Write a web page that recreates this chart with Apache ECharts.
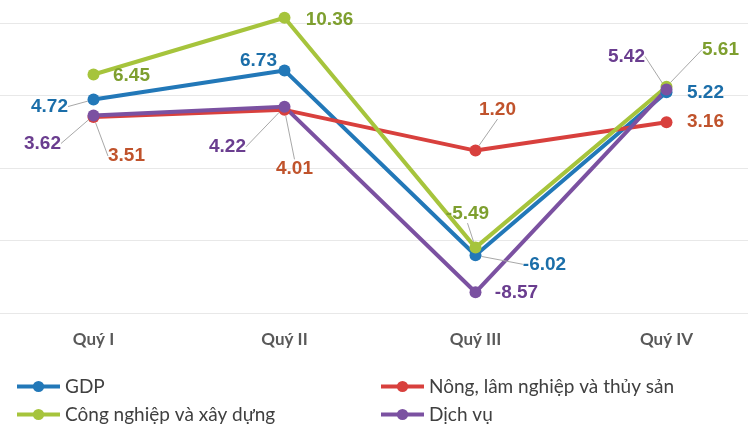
<!DOCTYPE html>
<html><head><meta charset="utf-8">
<script src="https://cdn.jsdelivr.net/npm/echarts@6/dist/echarts.min.js"></script>
<style>html,body{margin:0;padding:0;background:#fff}#c{width:748px;height:430px}</style>
</head><body><div id="c"></div>
<script>
const categories = ['Quý I', 'Quý II', 'Quý III', 'Quý IV'];
const seriesNames = ['GDP', 'Nông, lâm nghiệp và thủy sản', 'Công nghiệp và xây dựng', 'Dịch vụ'];
const gdp = [4.72, 6.73, -6.02, 5.22];
const nong = [3.51, 4.01, 1.20, 3.16];
const cong = [6.45, 10.36, -5.49, 5.61];
const dichvu = [3.62, 4.22, -8.57, 5.42];

const values = [gdp, nong, cong, dichvu];
const lineColors = ['#2278b8', '#d8403d', '#a6c43c', '#7b51a1'];
const labelColors = ['#1b6ea9', '#c0532c', '#7e9f2f', '#6a3d8f'];
// label offsets from point [dx, dy, showLeader]
const labelOffsets = [
  [[-44, 7, 1], [-26, -10, 0], [69, 9, 1], [39, 0, 0]],
  [[33, 39, 1], [10, 59, 1], [22, -41, 1], [39, 0, 0]],
  [[38, 1, 0], [45, 2, 0], [-8, -34, 1], [54, -37, 1]],
  [[-51, 28, 1], [-57, 40, 1], [41, 1, 0], [-40, -33, 1]]
];
// legend slots [left, top]
const legendSlots = [[15, 377], [379, 377], [15, 405], [379, 405]];

const chart = echarts.init(document.getElementById('c'));
const series = values.map((vals, si) => ({
  name: seriesNames[si],
  type: 'line',
  clip: false,
  symbol: 'circle',
  symbolSize: 12,
  color: lineColors[si],
  lineStyle: { width: 4, color: lineColors[si] },
  itemStyle: { color: lineColors[si] },
  label: {
    show: true,
    position: 'inside',
    color: labelColors[si],
    fontFamily: 'Liberation Sans',
    fontWeight: 'bold',
    fontSize: 19,
    formatter: p => Number(p.value).toFixed(2)
  },
  labelLine: { show: true, lineStyle: { color: '#a8a8a8', width: 1 } },
  labelLayout: p => ({ dx: labelOffsets[si][p.dataIndex][0], dy: labelOffsets[si][p.dataIndex][1] }),
  data: vals.map((v, i) => ({
    value: v,
    labelLine: { show: !!labelOffsets[si][i][2] }
  }))
}));

chart.setOption({
  animation: false,
  backgroundColor: '#ffffff',
  grid: { left: -2, width: 764, top: 23, height: 290, containLabel: false, outerBoundsMode: 'none' },
  xAxis: {
    type: 'category',
    data: categories,
    boundaryGap: true,
    axisLine: { show: false },
    axisTick: { show: false },
    axisLabel: { margin: 18, color: '#595959', fontSize: 17, fontFamily: 'Lato', fontWeight: 'bold' }
  },
  yAxis: {
    type: 'value',
    min: -10, max: 10, interval: 5,
    axisLabel: { show: false },
    axisLine: { show: false },
    axisTick: { show: false },
    splitLine: { show: true, lineStyle: { color: '#e8e8e8', width: 1 } }
  },
  legend: seriesNames.map((n, i) => ({
    orient: 'horizontal',
    left: legendSlots[i][0], top: legendSlots[i][1],
    padding: 0,
    data: [n],
    itemWidth: 43, itemHeight: 14, itemGap: 4,
    lineStyle: { width: 4 },
    textStyle: { color: '#404040', fontSize: 19, fontFamily: 'Lato' }
  })),
  series: series
});
</script>
</body></html>
